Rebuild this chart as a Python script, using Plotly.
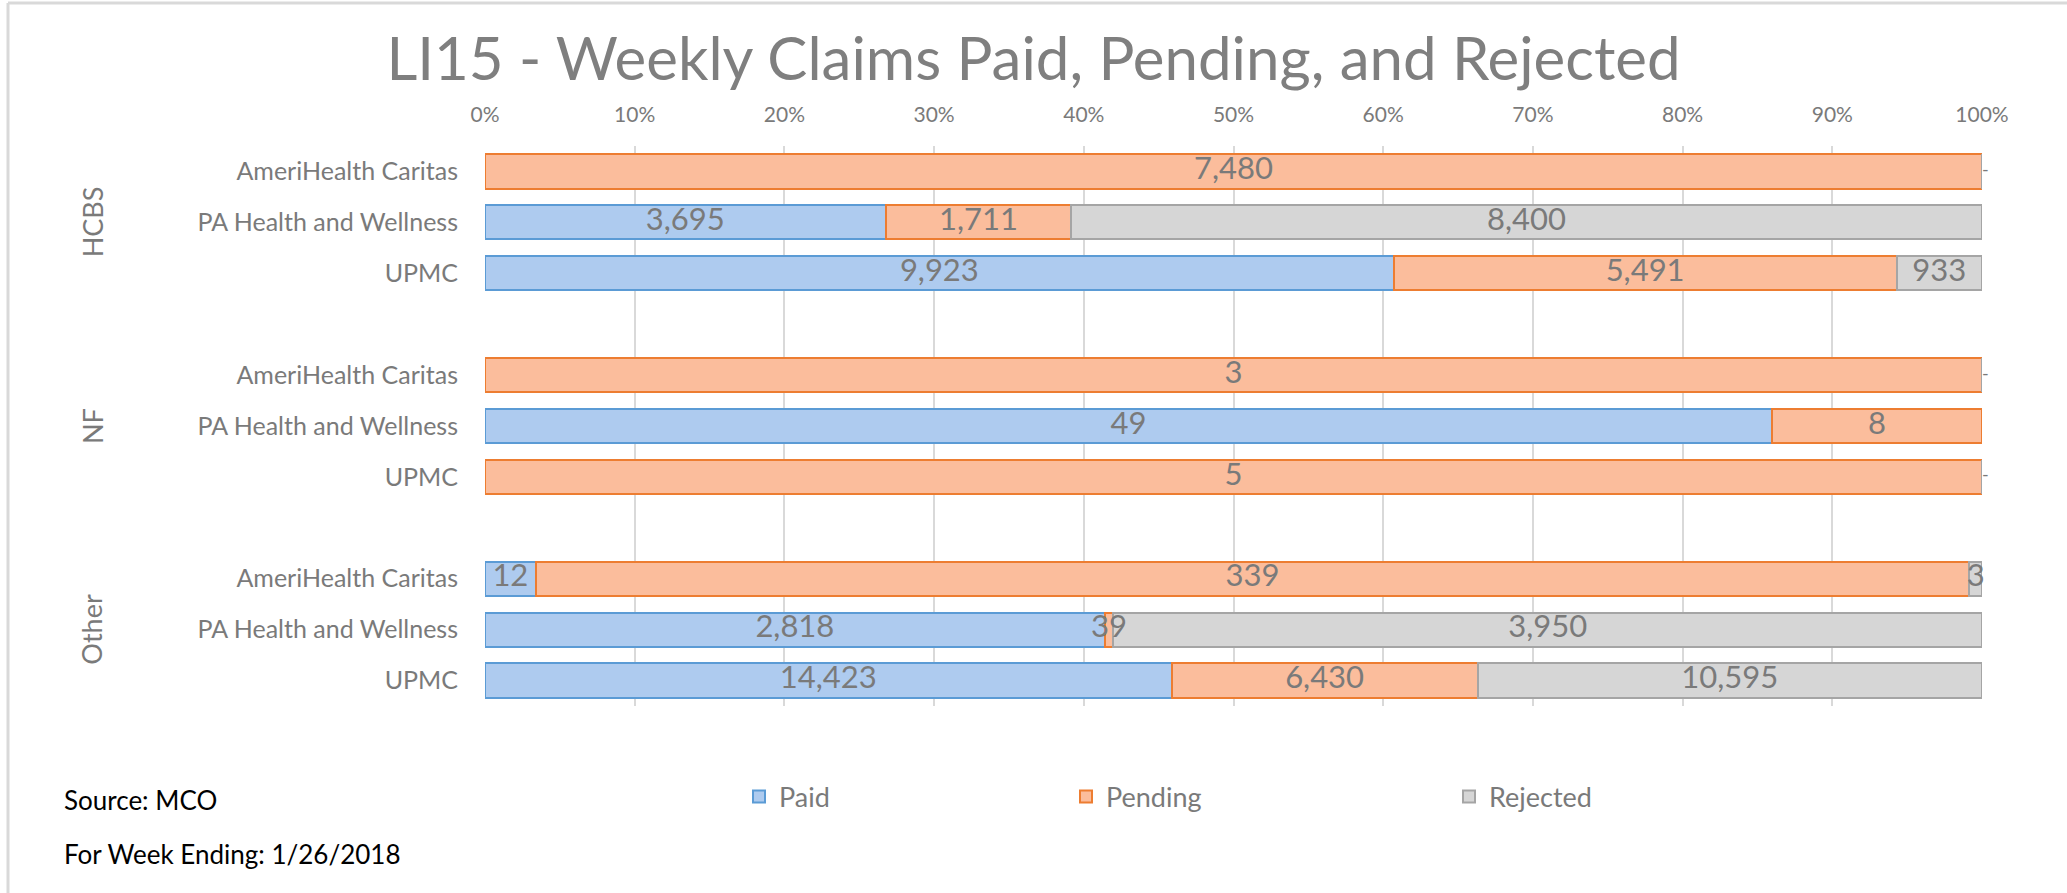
import plotly.graph_objects as go

# ---- data ----
groups = ["HCBS", "NF", "Other"]
mcos = ["AmeriHealth Caritas", "PA Health and Wellness", "UPMC"]
paid = [None, 3695, 9923, None, 49, None, 12, 2818, 14423]
pending = [7480, 1711, 5491, 3, 8, 5, 339, 39, 6430]
rejected = [0, 8400, 933, 0, None, 0, 3, 3950, 10595]
x_ticks = [0, 10, 20, 30, 40, 50, 60, 70, 80, 90, 100]
title_text = "LI15 - Weekly Claims Paid, Pending, and Rejected"
source_text = "Source: MCO"
week_text = "For Week Ending: 1/26/2018"

# ---- layout helpers ----
W, H = 2067, 893
L, R, T, B = 485, 85, 146, 187
PW, PH = W - L - R, H - T - B

def px_x(p):
    return (p - L) / PW

def px_y(p):
    return 1 - (p - T) / PH

ypos, ylabels, gcenters = [], [], []
for gi, g in enumerate(groups):
    for ci, c in enumerate(mcos):
        ypos.append(gi * 4 + ci)
        ylabels.append(c)
    gcenters.append(gi * 4 + 1)

FONT = "Lato, 'Open Sans', sans-serif"
TXT = "#7a7a7a"

def fmt(v):
    return "" if (v is None or v == 0) else f"{v:,}"

series = [
    ("Paid", paid, "#aecbef", "#5b9bd5", "legend"),
    ("Pending", pending, "#fbbd9c", "#ed7d31", "legend2"),
    ("Rejected", rejected, "#d6d6d6", "#a5a5a5", "legend3"),
]

fig = go.Figure()
for name, vals, fill, line, lg in series:
    fig.add_trace(go.Bar(
        name=name, y=ypos, x=vals, orientation="h",
        marker=dict(color=fill, line=dict(color=line, width=2)),
        legend=lg, hovertemplate="%{y}: %{x:.1f}%<extra>" + name + "</extra>",
    ))

# data labels centred on each stacked segment (drawn above all bars)
lx, ly, lt = [], [], []
for i, y in enumerate(ypos):
    vals = [s[1][i] or 0 for s in series]
    total = sum(vals)
    cum = 0
    for v in vals:
        if v:
            lx.append((cum + v / 2) / total * 100)
            ly.append(y)
            lt.append(fmt(v))
        cum += v
fig.add_trace(go.Scatter(
    x=lx, y=ly, mode="text", text=lt, textposition="middle center",
    showlegend=False, hoverinfo="skip", cliponaxis=False,
    textfont=dict(family=FONT, size=31, color=TXT),
))

# zero-value labels shown as dashes at the end of the bar
zy = [y for y, v in zip(ypos, rejected) if v == 0]
fig.add_trace(go.Scatter(
    x=[100] * len(zy), y=zy, mode="text", text=["-"] * len(zy),
    textposition="middle right", showlegend=False, hoverinfo="skip",
    textfont=dict(family=FONT, size=18, color=TXT), cliponaxis=False,
))

fig.update_layout(
    width=W, height=H, barmode="stack", barnorm="percent", bargap=0.33,
    margin=dict(l=L, r=R, t=T, b=B),
    paper_bgcolor="white", plot_bgcolor="white",
    title=dict(text=title_text, x=0.5, xref="container", xanchor="center",
               y=1 - 59 / H, yref="container", yanchor="middle",
               font=dict(family=FONT, size=60, color="#7f7f7f")),
    xaxis=dict(side="top", range=[0, 100], tickvals=x_ticks,
               ticktext=[f"{t}%" for t in x_ticks],
               showgrid=True, gridcolor="#d9d9d9", gridwidth=2,
               zeroline=False, showline=False, ticks="",
               ticklabelstandoff=19,
               tickfont=dict(family=FONT, size=21, color=TXT)),
    yaxis=dict(tickvals=ypos, ticktext=ylabels, range=[10.5, -0.5],
               showgrid=False, zeroline=False, showline=False, ticks="",
               ticklabelstandoff=26,
               tickfont=dict(family=FONT, size=25, color=TXT)),
    font=dict(family=FONT, color=TXT),
)

leg_common = dict(orientation="h", yanchor="middle", xanchor="left",
                  font=dict(family=FONT, size=27, color=TXT),
                  bgcolor="rgba(0,0,0,0)", itemwidth=30)
fig.update_layout(
    legend=dict(x=px_x(739), y=px_y(797), **leg_common),
    legend2=dict(x=px_x(1066), y=px_y(797), **leg_common),
    legend3=dict(x=px_x(1449), y=px_y(797), **leg_common),
)

for g, yc in zip(groups, gcenters):
    fig.add_annotation(x=px_x(92), xref="paper", y=yc, yref="y", text=g,
                       textangle=-90, showarrow=False, xanchor="center",
                       yanchor="middle",
                       font=dict(family=FONT, size=27, color=TXT))

fig.add_annotation(x=px_x(62), xref="paper", y=px_y(800), yref="paper",
                   text=source_text, showarrow=False, xanchor="left",
                   yanchor="middle", font=dict(family=FONT, size=26, color="black"))
fig.add_annotation(x=px_x(62), xref="paper", y=px_y(854), yref="paper",
                   text=week_text, showarrow=False, xanchor="left",
                   yanchor="middle", font=dict(family=FONT, size=26, color="black"))

# chart-area border (top and left edges visible)
fig.add_shape(type="line", xref="paper", yref="paper",
              x0=px_x(8), x1=px_x(W), y0=px_y(3), y1=px_y(3),
              line=dict(color="#d9d9d9", width=3))
fig.add_shape(type="line", xref="paper", yref="paper",
              x0=px_x(8), x1=px_x(8), y0=px_y(3), y1=px_y(H),
              line=dict(color="#d9d9d9", width=3))

fig.write_html("out.html", config={"displayModeBar": False},
               post_script="document.body.style.margin='0';")
